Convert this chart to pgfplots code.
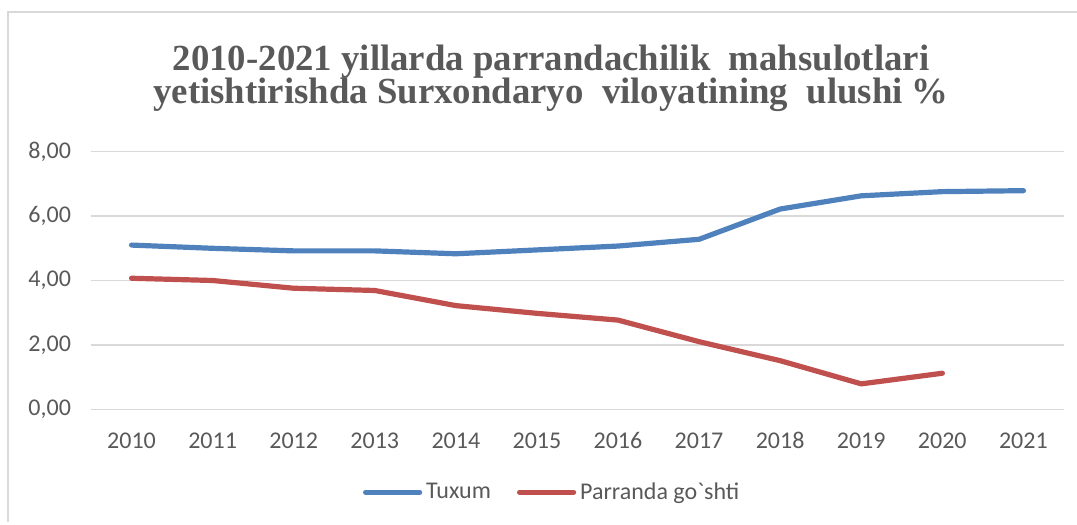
\documentclass[border=0pt]{standalone}
\usepackage{pgfplots}
\pgfplotsset{compat=1.18}
\usepackage{fontspec}
\setmainfont{Carlito}[Ligatures=TeXOff]
\newfontfamily\titlefont{Liberation Serif}
\definecolor{txt}{HTML}{595959}
\definecolor{gridc}{HTML}{D9D9D9}
\definecolor{cblue}{HTML}{4F81BD}
\definecolor{cred}{HTML}{C0504D}
\begin{document}
\begin{tikzpicture}[x=0.5pt,y=0.5pt]
\useasboundingbox (-91,-115.7) rectangle (986,409.3);
\draw[gridc,line width=0.9pt] (-83,-113) -- (-83,397.3) -- (986,397.3);
\begin{axis}[
  at={(0,0)}, anchor=origin,
  scale only axis, width=486.5pt, height=128.8pt,
  xmin=2009.5, xmax=2021.5, ymin=0, ymax=8,
  axis line style={draw=none},
  xtick={2010,...,2021},
  ytick={0,2,4,6,8},
  major tick length=0pt,
  ymajorgrids=true, xmajorgrids=false,
  grid style={draw=gridc,line width=0.75pt},
  xticklabel style={font=\fontsize{12}{14}\selectfont, text=txt, text height=8.2pt, text depth=0pt, yshift=-8pt},
  yticklabel style={font=\fontsize{12}{14}\selectfont, text=txt, xshift=-6.5pt},
  /pgf/number format/assume math mode=true,
  xticklabel={\pgfmathprintnumber[1000 sep={}]{\tick}},
  yticklabel={\pgfmathprintnumber[fixed,fixed zerofill,precision=2,use comma]{\tick}},
  legend style={at={(0.475,-0.322)}, anchor=center, draw=none, fill=none,
    legend columns=2, font=\fontsize{12}{14}\selectfont, text=txt,
    /tikz/every even column/.append style={column sep=11pt},
    inner sep=0pt},
  legend image code/.code={\draw[#1, line cap=round] (0pt,0pt) -- (27pt,0pt);},
  clip=false,
]
\addplot[cblue, line width=2.6pt, line cap=round, line join=round] coordinates {
 (2010,5.10) (2011,5.00) (2012,4.92) (2013,4.92) (2014,4.83) (2015,4.95)
 (2016,5.07) (2017,5.28) (2018,6.22) (2019,6.63) (2020,6.76) (2021,6.79)};
\addlegendentry{Tuxum}
\addplot[cred, line width=2.6pt, line cap=round, line join=round] coordinates {
 (2010,4.07) (2011,4.00) (2012,3.76) (2013,3.69) (2014,3.22) (2015,2.98)
 (2016,2.77) (2017,2.10) (2018,1.51) (2019,0.79) (2020,1.12)};
\addlegendentry{Parranda go`shti}
\end{axis}
\node[anchor=base, text=txt, inner sep=0pt, font=\titlefont\bfseries\fontsize{18.4}{16.5}\selectfont] at (460,338.3)
 {\vtop{\lineskiplimit=-100pt\baselineskip=16.5pt
  \hbox to 0pt{\hss 2010-2021 yillarda parrandachilik\ \ mahsulotlari\hss}
  \hbox to 0pt{\hss yetishtirishda Surxondaryo\ \ viloyatining\ \ ulushi \%\hss}}};
\end{tikzpicture}
\end{document}
